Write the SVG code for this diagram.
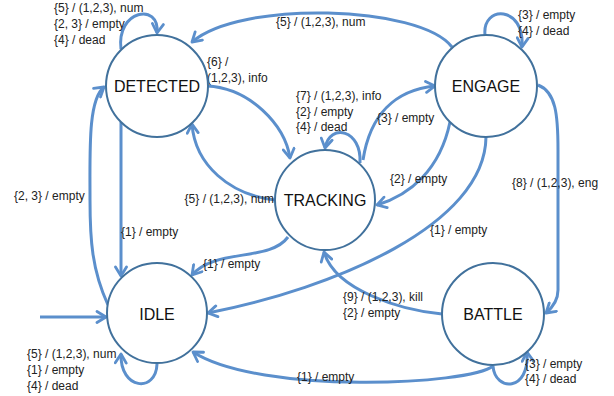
<svg xmlns="http://www.w3.org/2000/svg" width="614" height="396" viewBox="0 0 614 396">
<style>
.edge{fill:none;stroke:#5B8FCC;stroke-width:3;marker-end:url(#arr)}
.node circle{fill:#fff;stroke:#41719C;stroke-width:2}
.node text{font-family:"Liberation Sans",Arial,sans-serif;font-size:16px;fill:#111;text-anchor:middle}
.lbl{font-family:"Liberation Sans",Arial,sans-serif;font-size:12px;fill:#222}
</style>
<defs>
<marker id="arr" viewBox="0 0 14 14" refX="11" refY="7" markerWidth="14" markerHeight="14" markerUnits="userSpaceOnUse" orient="auto">
<path d="M2,1.5 L11,7 L2,12.5" fill="none" stroke="#5B8FCC" stroke-width="2.8" stroke-linecap="round" stroke-linejoin="round"/>
</marker>
</defs>
<rect width="614" height="396" fill="#fff"/>
<g id="connectors">
<path class="edge" d="M121,49 C116,10 160,2 157,33"/>
<path class="edge" d="M452,47 C420,5 240,0 192,42"/>
<path class="edge" d="M485,35 C482,5 525,5 522,47"/>
<path class="edge" d="M207,86 C250,88 285,125 290,158"/>
<path class="edge" d="M275,200 C230,195 195,165 192,124"/>
<path class="edge" d="M360,163 C362,130 330,122 325,148"/>
<path class="edge" d="M363,160 C370,115 395,90 435,86"/>
<path class="edge" d="M450,122 C440,170 410,195 377,205"/>
<path class="edge" d="M486,137 C485,225 335,288 208,313"/>
<path class="edge" d="M538,85 C556,92 558,115 558,150 L558,290 C558,300 553,307 546,313"/>
<path class="edge" d="M121,122 L121,276"/>
<path class="edge" d="M108,305 C92,270 90,240 90,200 C90,150 88,100 104,87"/>
<path class="edge" d="M288,237 C270,262 215,248 192,275"/>
<path class="edge" d="M442,314 C400,310 335,290 324,252"/>
<path class="edge" d="M493,366 C470,385 260,395 193,352"/>
<path class="edge" d="M493,366 C495,392 530,392 527,352"/>
<path class="edge" d="M157,364 C156,393 120,390 121,354"/>
<path class="edge" d="M40,317 L106,317"/>
</g>
<g id="labels">
<text class="lbl" x="54" y="12">{5} / (1,2,3), num</text>
<text class="lbl" x="54" y="28">{2, 3} / empty</text>
<text class="lbl" x="54" y="44">{4} / dead</text>
<text class="lbl" x="276" y="26">{5} / (1,2,3), num</text>
<text class="lbl" x="518" y="19">{3} / empty</text>
<text class="lbl" x="518" y="35">{4} / dead</text>
<text class="lbl" x="207" y="66">{6} /</text>
<text class="lbl" x="207" y="82">(1,2,3), info</text>
<text class="lbl" x="296" y="100">{7} / (1,2,3), info</text>
<text class="lbl" x="296" y="116">{2} / empty</text>
<text class="lbl" x="296" y="131">{4} / dead</text>
<text class="lbl" x="377" y="122">{3} / empty</text>
<text class="lbl" x="274" y="203" text-anchor="end">{5} / (1,2,3), num</text>
<text class="lbl" x="390" y="183">{2} / empty</text>
<text class="lbl" x="512" y="187">{8} / (1,2,3), eng</text>
<text class="lbl" x="14" y="200">{2, 3} / empty</text>
<text class="lbl" x="121" y="236">{1} / empty</text>
<text class="lbl" x="430" y="234">{1} / empty</text>
<text class="lbl" x="203" y="268">{1} / empty</text>
<text class="lbl" x="343" y="301">{9} / (1,2,3), kill</text>
<text class="lbl" x="343" y="317">{2} / empty</text>
<text class="lbl" x="297" y="381">{1} / empty</text>
<text class="lbl" x="525" y="368">{3} / empty</text>
<text class="lbl" x="525" y="383">{4} / dead</text>
<text class="lbl" x="27" y="358">{5} / (1,2,3), num</text>
<text class="lbl" x="27" y="374">{1} / empty</text>
<text class="lbl" x="27" y="390">{4} / dead</text>
</g>
<g id="DETECTED" class="node"><circle cx="157" cy="86" r="51"/><text x="157" y="92">DETECTED</text></g>
<g id="ENGAGE" class="node"><circle cx="486" cy="86" r="51"/><text x="486" y="92">ENGAGE</text></g>
<g id="TRACKING" class="node"><circle cx="325" cy="200" r="50"/><text x="325" y="206">TRACKING</text></g>
<g id="IDLE" class="node"><circle cx="157" cy="313" r="50"/><text x="157" y="320">IDLE</text></g>
<g id="BATTLE" class="node"><circle cx="493" cy="314" r="51"/><text x="493" y="320">BATTLE</text></g>
</svg>
